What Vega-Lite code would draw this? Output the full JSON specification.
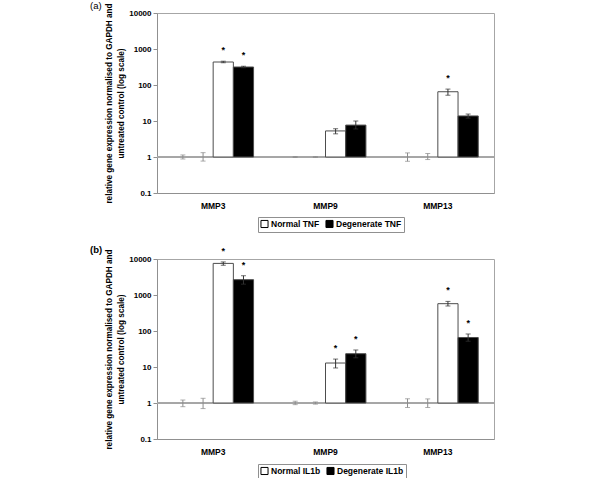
{
  "$schema": "https://vega.github.io/schema/vega-lite/v6.json",
  "padding": {"left": 89, "top": 0, "right": 5, "bottom": 0},
  "background": "white",
  "config": {
    "font": "Liberation Sans",
    "view": {"stroke": "#a6a6a6", "strokeWidth": 1},
    "axis": {"grid": false, "labelFontWeight": "bold", "labelColor": "black", "titleColor": "black", "domainColor": "#909090", "tickColor": "#909090"},
    "legend": {"labelFontWeight": "bold", "labelFontSize": 8.5, "labelColor": "black"},
    "title": {"fontWeight": "normal", "fontSize": 9.5, "color": "black"}
  },
  "datasets": {
    "a": [
      {"gene": "MMP3", "slot": "cN", "series": "ctrl", "value": 1, "lo": 0.88, "hi": 1.14, "sig": 0},
      {"gene": "MMP3", "slot": "cD", "series": "ctrl", "value": 1, "lo": 0.77, "hi": 1.32, "sig": 0},
      {"gene": "MMP3", "slot": "N", "series": "Normal TNF", "value": 435, "lo": 415, "hi": 458, "sig": 1},
      {"gene": "MMP3", "slot": "D", "series": "Degenerate TNF", "value": 316, "lo": 302, "hi": 332, "sig": 1},
      {"gene": "MMP9", "slot": "cN", "series": "ctrl", "value": 1, "lo": 0.97, "hi": 1.03, "sig": 0},
      {"gene": "MMP9", "slot": "cD", "series": "ctrl", "value": 1, "lo": 0.97, "hi": 1.03, "sig": 0},
      {"gene": "MMP9", "slot": "N", "series": "Normal TNF", "value": 5.3, "lo": 4.4, "hi": 6.1, "sig": 0},
      {"gene": "MMP9", "slot": "D", "series": "Degenerate TNF", "value": 7.7, "lo": 6.0, "hi": 10, "sig": 0},
      {"gene": "MMP13", "slot": "cN", "series": "ctrl", "value": 1, "lo": 0.76, "hi": 1.3, "sig": 0},
      {"gene": "MMP13", "slot": "cD", "series": "ctrl", "value": 1, "lo": 0.85, "hi": 1.25, "sig": 0},
      {"gene": "MMP13", "slot": "N", "series": "Normal TNF", "value": 65, "lo": 52, "hi": 77, "sig": 1},
      {"gene": "MMP13", "slot": "D", "series": "Degenerate TNF", "value": 13.8, "lo": 12, "hi": 15.6, "sig": 0}
    ],
    "b": [
      {"gene": "MMP3", "slot": "cN", "series": "ctrl", "value": 1, "lo": 0.79, "hi": 1.21, "sig": 0},
      {"gene": "MMP3", "slot": "cD", "series": "ctrl", "value": 1, "lo": 0.7, "hi": 1.35, "sig": 0},
      {"gene": "MMP3", "slot": "N", "series": "Normal IL1b", "value": 7550, "lo": 6700, "hi": 8300, "sig": 1},
      {"gene": "MMP3", "slot": "D", "series": "Degenerate IL1b", "value": 2665, "lo": 2000, "hi": 3430, "sig": 1},
      {"gene": "MMP9", "slot": "cN", "series": "ctrl", "value": 1, "lo": 0.9, "hi": 1.12, "sig": 0},
      {"gene": "MMP9", "slot": "cD", "series": "ctrl", "value": 1, "lo": 0.93, "hi": 1.07, "sig": 0},
      {"gene": "MMP9", "slot": "N", "series": "Normal IL1b", "value": 12.9, "lo": 9.4, "hi": 16.6, "sig": 1},
      {"gene": "MMP9", "slot": "D", "series": "Degenerate IL1b", "value": 23.4, "lo": 18, "hi": 29.7, "sig": 1},
      {"gene": "MMP13", "slot": "cN", "series": "ctrl", "value": 1, "lo": 0.75, "hi": 1.31, "sig": 0},
      {"gene": "MMP13", "slot": "cD", "series": "ctrl", "value": 1, "lo": 0.75, "hi": 1.3, "sig": 0},
      {"gene": "MMP13", "slot": "N", "series": "Normal IL1b", "value": 574, "lo": 495, "hi": 664, "sig": 1},
      {"gene": "MMP13", "slot": "D", "series": "Degenerate IL1b", "value": 66, "lo": 52, "hi": 82.6, "sig": 1}
    ]
  },
  "spacing": 11,
  "resolve": {"scale": {"fill": "independent"}, "legend": {"fill": "independent"}},
  "vconcat": [
    {
      "title": {"text": "(a)", "anchor": "start", "frame": "group", "dx": -67, "offset": -8},
      "width": 337,
      "height": 180,
      "data": {"name": "a"},
      "layer": [
        {
          "mark": {"type": "rule", "color": "#a6a6a6", "strokeWidth": 1},
          "encoding": {"y": {"datum": 1, "type": "quantitative", "scale": {"type": "log", "domain": [0.1, 10000], "nice": false}}}
        },
        {
          "transform": [{"filter": "datum.series != 'ctrl'"}],
          "mark": {"type": "bar", "stroke": "#4d4d4d", "strokeWidth": 1},
          "encoding": {
            "x": {"field": "gene", "type": "nominal", "sort": ["MMP3", "MMP9", "MMP13"], "scale": {"paddingInner": 0, "paddingOuter": 0},
              "axis": {"title": null, "labelAngle": 0, "ticks": false, "labelFontSize": 8.5, "labelPadding": 8}},
            "xOffset": {"field": "slot", "type": "nominal", "scale": {"domain": ["cN", "cD", "N", "D"], "paddingInner": 0, "paddingOuter": 0.78}},
            "y": {"field": "value", "type": "quantitative", "scale": {"type": "log", "domain": [0.1, 10000], "nice": false},
              "axis": {"title": ["relative gene expression normalised to GAPDH and", "untreated control (log scale)"], "titleFontSize": 8.2, "titleFontWeight": "bold", "titlePadding": 3, "titleLineHeight": 12,
                "values": [0.1, 1, 10, 100, 1000, 10000], "labelExpr": "datum.value < 1 ? '0.1' : format(datum.value, 'd')", "labelFontSize": 8, "tickSize": 4, "labelPadding": 2}},
            "y2": {"datum": 1},
            "fill": {"field": "series", "type": "nominal", "scale": {"domain": ["Normal TNF", "Degenerate TNF"], "range": ["white", "black"]},
              "legend": {"title": null, "orient": "none", "legendX": 101, "legendY": 204, "direction": "horizontal", "symbolType": "square", "symbolSize": 50, "symbolStrokeColor": "black", "symbolStrokeWidth": 1, "strokeColor": "#909090", "padding": 2, "columnPadding": 3, "labelOffset": 2}}
          }
        },
        {
          "mark": {"type": "rule", "strokeWidth": 1},
          "encoding": {
            "x": {"field": "gene", "type": "nominal", "sort": ["MMP3", "MMP9", "MMP13"]},
            "xOffset": {"field": "slot", "type": "nominal"},
            "y": {"field": "lo", "type": "quantitative"},
            "y2": {"field": "hi"},
            "color": {"condition": {"test": "datum.series == 'ctrl'", "value": "#8c8c8c"}, "value": "#333333"}
          }
        },
        {
          "mark": {"type": "tick", "size": 5, "thickness": 1},
          "encoding": {
            "x": {"field": "gene", "type": "nominal", "sort": ["MMP3", "MMP9", "MMP13"]},
            "xOffset": {"field": "slot", "type": "nominal"},
            "y": {"field": "lo", "type": "quantitative"},
            "color": {"condition": {"test": "datum.series == 'ctrl'", "value": "#8c8c8c"}, "value": "#333333"}
          }
        },
        {
          "mark": {"type": "tick", "size": 5, "thickness": 1},
          "encoding": {
            "x": {"field": "gene", "type": "nominal", "sort": ["MMP3", "MMP9", "MMP13"]},
            "xOffset": {"field": "slot", "type": "nominal"},
            "y": {"field": "hi", "type": "quantitative"},
            "color": {"condition": {"test": "datum.series == 'ctrl'", "value": "#8c8c8c"}, "value": "#333333"}
          }
        },
        {
          "transform": [{"filter": "datum.sig == 1"}],
          "mark": {"type": "text", "text": "*", "fontSize": 9, "fontWeight": "bold", "dy": -6, "baseline": "bottom", "color": "black"},
          "encoding": {
            "x": {"field": "gene", "type": "nominal", "sort": ["MMP3", "MMP9", "MMP13"]},
            "xOffset": {"field": "slot", "type": "nominal"},
            "y": {"field": "hi", "type": "quantitative"}
          }
        }
      ]
    },
    {
      "title": {"text": "(b)", "anchor": "start", "frame": "group", "dx": -67, "offset": -8, "fontWeight": "bold"},
      "width": 337,
      "height": 180,
      "data": {"name": "b"},
      "layer": [
        {
          "mark": {"type": "rule", "color": "#a6a6a6", "strokeWidth": 1},
          "encoding": {"y": {"datum": 1, "type": "quantitative", "scale": {"type": "log", "domain": [0.1, 10000], "nice": false}}}
        },
        {
          "transform": [{"filter": "datum.series != 'ctrl'"}],
          "mark": {"type": "bar", "stroke": "#4d4d4d", "strokeWidth": 1},
          "encoding": {
            "x": {"field": "gene", "type": "nominal", "sort": ["MMP3", "MMP9", "MMP13"], "scale": {"paddingInner": 0, "paddingOuter": 0},
              "axis": {"title": null, "labelAngle": 0, "ticks": false, "labelFontSize": 8.5, "labelPadding": 8}},
            "xOffset": {"field": "slot", "type": "nominal", "scale": {"domain": ["cN", "cD", "N", "D"], "paddingInner": 0, "paddingOuter": 0.78}},
            "y": {"field": "value", "type": "quantitative", "scale": {"type": "log", "domain": [0.1, 10000], "nice": false},
              "axis": {"title": ["relative gene expression normalised to GAPDH and", "untreated control (log scale)"], "titleFontSize": 8.2, "titleFontWeight": "bold", "titlePadding": 3, "titleLineHeight": 12,
                "values": [0.1, 1, 10, 100, 1000, 10000], "labelExpr": "datum.value < 1 ? '0.1' : format(datum.value, 'd')", "labelFontSize": 8, "tickSize": 4, "labelPadding": 2}},
            "y2": {"datum": 1},
            "fill": {"field": "series", "type": "nominal", "scale": {"domain": ["Normal IL1b", "Degenerate IL1b"], "range": ["white", "black"]},
              "legend": {"title": null, "orient": "none", "legendX": 101, "legendY": 205, "direction": "horizontal", "symbolType": "square", "symbolSize": 50, "symbolStrokeColor": "black", "symbolStrokeWidth": 1, "strokeColor": "#909090", "padding": 2, "columnPadding": 3, "labelOffset": 2}}
          }
        },
        {
          "mark": {"type": "rule", "strokeWidth": 1},
          "encoding": {
            "x": {"field": "gene", "type": "nominal", "sort": ["MMP3", "MMP9", "MMP13"]},
            "xOffset": {"field": "slot", "type": "nominal"},
            "y": {"field": "lo", "type": "quantitative"},
            "y2": {"field": "hi"},
            "color": {"condition": {"test": "datum.series == 'ctrl'", "value": "#8c8c8c"}, "value": "#333333"}
          }
        },
        {
          "mark": {"type": "tick", "size": 5, "thickness": 1},
          "encoding": {
            "x": {"field": "gene", "type": "nominal", "sort": ["MMP3", "MMP9", "MMP13"]},
            "xOffset": {"field": "slot", "type": "nominal"},
            "y": {"field": "lo", "type": "quantitative"},
            "color": {"condition": {"test": "datum.series == 'ctrl'", "value": "#8c8c8c"}, "value": "#333333"}
          }
        },
        {
          "mark": {"type": "tick", "size": 5, "thickness": 1},
          "encoding": {
            "x": {"field": "gene", "type": "nominal", "sort": ["MMP3", "MMP9", "MMP13"]},
            "xOffset": {"field": "slot", "type": "nominal"},
            "y": {"field": "hi", "type": "quantitative"},
            "color": {"condition": {"test": "datum.series == 'ctrl'", "value": "#8c8c8c"}, "value": "#333333"}
          }
        },
        {
          "transform": [{"filter": "datum.sig == 1"}],
          "mark": {"type": "text", "text": "*", "fontSize": 9, "fontWeight": "bold", "dy": -6, "baseline": "bottom", "color": "black"},
          "encoding": {
            "x": {"field": "gene", "type": "nominal", "sort": ["MMP3", "MMP9", "MMP13"]},
            "xOffset": {"field": "slot", "type": "nominal"},
            "y": {"field": "hi", "type": "quantitative"}
          }
        }
      ]
    }
  ]
}
